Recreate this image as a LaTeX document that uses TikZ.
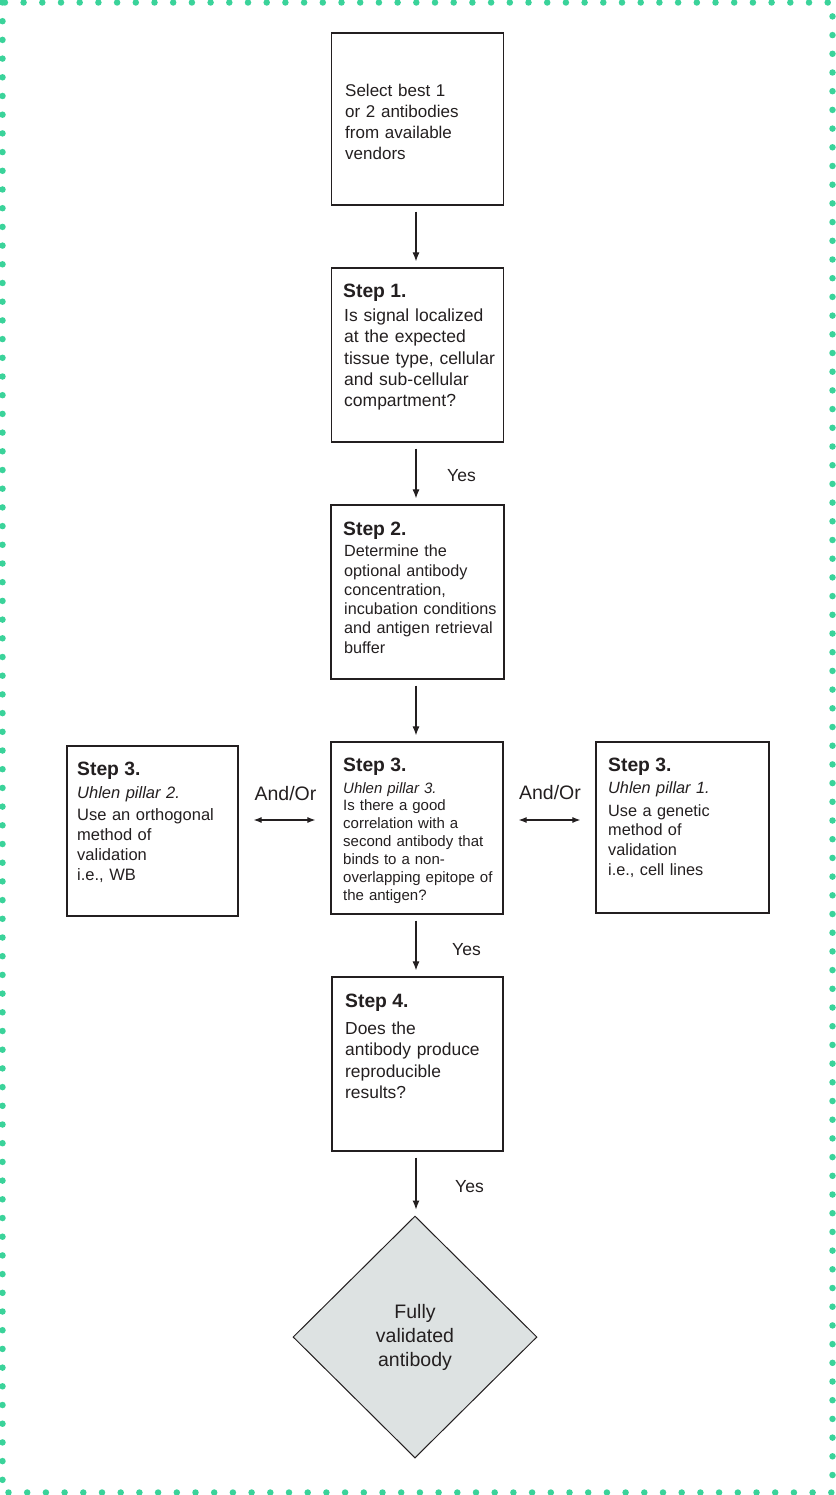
\documentclass[tikz,border=0pt]{standalone}
\usepackage{fontspec}
\setmainfont{Liberation Sans}
\usetikzlibrary{arrows.meta,shapes.geometric}
\definecolor{ink}{RGB}{35,31,32}
\definecolor{dotc}{RGB}{58,211,154}
\definecolor{dfill}{RGB}{221,226,226}
\begin{document}
\begin{tikzpicture}[x=1pt,y=-1pt,
  stepbox/.style={draw=ink, line width=1.2pt, inner sep=0pt, rectangle},
  ttl/.style={anchor=base west, inner sep=0pt, text=ink, font=\fontsize{19.3}{23}\selectfont\bfseries},
  txt/.style={anchor=base west, inner sep=0pt, text width=220pt, align=left, text=ink},
  arr/.style={draw=ink, line width=1.1pt, -{Latex[length=9pt,width=7pt]}, shorten <=6pt, shorten >=6pt},
  darr/.style={draw=ink, line width=1.1pt, {Latex[length=8pt,width=6pt]}-{Latex[length=8pt,width=6pt]}, shorten <=15pt, shorten >=15pt},
  lab/.style={anchor=base west, inner sep=0pt, text=ink, font=\fontsize{17.5}{21}\selectfont}]
\useasboundingbox (0,0) rectangle (835,1495);
% dotted frame
\draw[dotc, line width=6.5pt, line cap=round, dash pattern=on 0pt off 18.7pt] (2.5,2.5) rectangle (832.5,1492.5);

% boxes
\node[stepbox, minimum width=172pt, minimum height=172pt] (b0) at (417.5,119) {};
\node[stepbox, minimum width=172pt, minimum height=174pt] (b1) at (417.5,355) {};
\node[stepbox, minimum width=173pt, minimum height=174pt] (b2) at (417.5,592) {};
\node[stepbox, minimum width=172pt, minimum height=172pt] (b3) at (417,828) {};
\node[stepbox, minimum width=171pt, minimum height=170pt] (bl) at (152.5,831) {};
\node[stepbox, minimum width=173pt, minimum height=171pt] (br) at (682.5,827.5) {};
\node[stepbox, minimum width=171pt, minimum height=174pt] (b4) at (417.5,1064) {};
\node[diamond, draw=ink, line width=1pt, fill=dfill, minimum width=244pt, minimum height=242pt,
      inner sep=0pt, align=center, text=ink, font=\fontsize{19.5}{24}\selectfont] (d) at (415,1337)
      {Fully\\validated\\antibody};

% texts
\node[txt, font=\fontsize{17}{21}\selectfont] (b0x) at (345,97) {Select best 1\\or 2 antibodies\\from available\\vendors};

\node[ttl] (b1t) at (343,298) {Step 1.};
\node[txt, font=\fontsize{17.5}{21.3}\selectfont] (b1x) at (344,321.7) {Is signal localized\\at the expected\\tissue type, cellular\\and sub-cellular\\compartment?};

\node[ttl] (b2t) at (343,535) {Step 2.};
\node[txt, font=\fontsize{16.2}{19.3}\selectfont] (b2x) at (344,556.7) {Determine the\\optional antibody\\concentration,\\incubation conditions\\and antigen retrieval\\buffer};

\node[ttl] (b3t) at (343,771.7) {Step 3.};
\node[txt, font=\fontsize{15}{18}\selectfont\itshape] (b3i) at (343,793.3) {Uhlen pillar 3.};
\node[txt, font=\fontsize{15}{18}\selectfont] (b3x) at (343,810) {Is there a good\\correlation with a\\second antibody that\\binds to a non-\\overlapping epitope of\\the antigen?};

\node[ttl] (blt) at (77,775) {Step 3.};
\node[txt, font=\fontsize{16.5}{20}\selectfont\itshape] (bli) at (77,798.3) {Uhlen pillar 2.};
\node[txt, font=\fontsize{16.5}{20}\selectfont] (blx) at (77,820) {Use an orthogonal\\method of\\validation\\i.e., WB};

\node[ttl] (brt) at (608,771.7) {Step 3.};
\node[txt, font=\fontsize{16.3}{19.7}\selectfont\itshape] (bri) at (608,793.3) {Uhlen pillar 1.};
\node[txt, font=\fontsize{16.3}{19.7}\selectfont] (brx) at (608,816) {Use a genetic\\method of\\validation\\i.e., cell lines};

\node[ttl] (b4t) at (345,1007.7) {Step 4.};
\node[txt, font=\fontsize{17.4}{21.5}\selectfont] (b4x) at (345,1034) {Does the\\antibody produce\\reproducible\\results?};

% connectors
\draw[arr] (b0.south -| 416,0) -- (b1.north -| 416,0);
\draw[arr] (b1.south -| 416,0) -- (b2.north -| 416,0);
\draw[arr] (b2.south -| 416,0) -- (b3.north -| 416,0);
\draw[arr] (b3.south -| 416,0) -- (b4.north -| 416,0);
\draw[arr] (b4.south -| 416,0) -- (d.north -| 416,0);
\draw[darr] (bl.east |- 0,820) -- (b3.west |- 0,820);
\draw[darr] (b3.east |- 0,820) -- (br.west |- 0,820);

% labels
\node[lab] (y1) at (447,481) {Yes};
\node[lab] (y2) at (452,955) {Yes};
\node[lab] (y3) at (455,1192) {Yes};
\node[lab, anchor=base, font=\fontsize{19.5}{23}\selectfont] (ao1) at (285.5,800) {And/Or};
\node[lab, anchor=base, font=\fontsize{19.5}{23}\selectfont] (ao2) at (550,799) {And/Or};
\end{tikzpicture}
\end{document}
